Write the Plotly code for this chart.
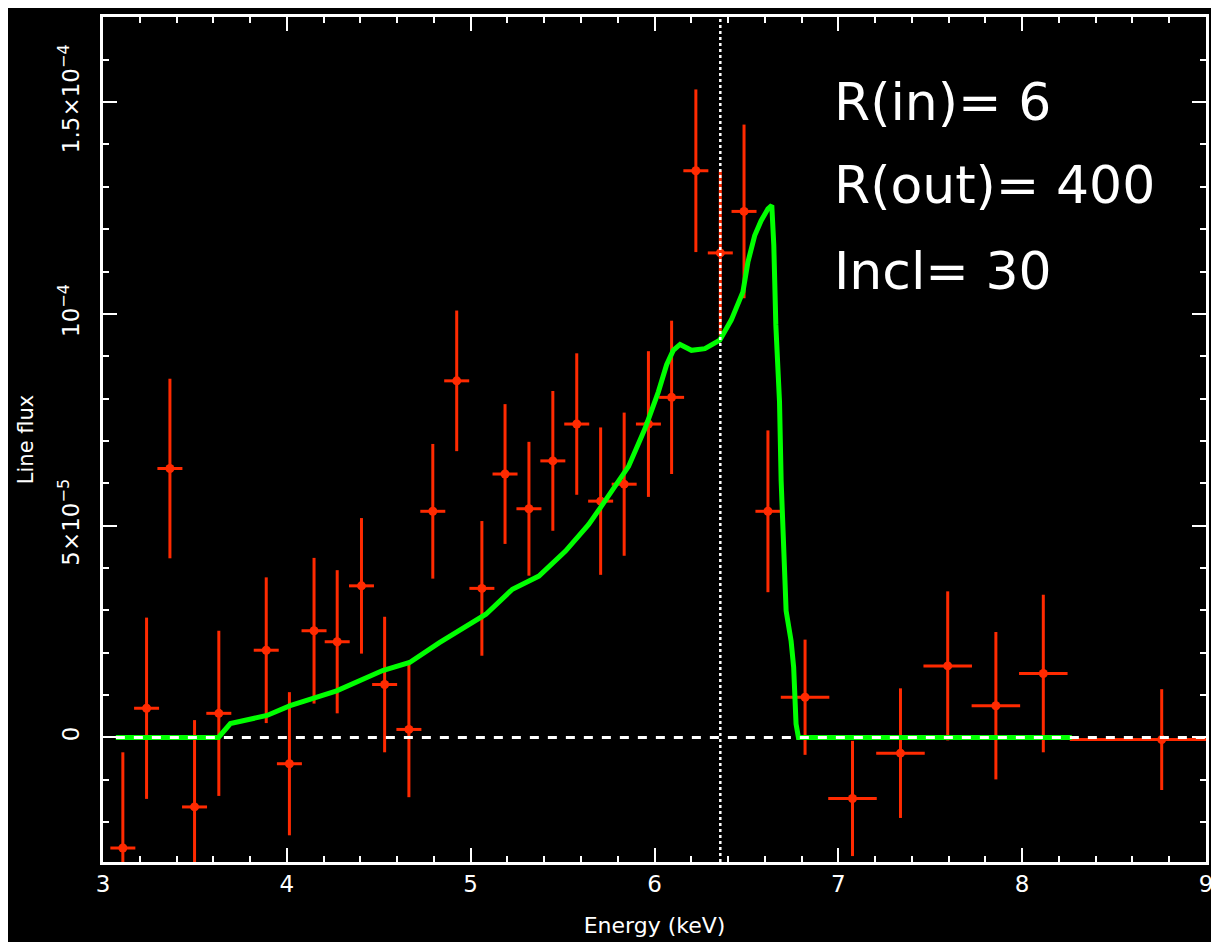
import plotly.graph_objects as go

# ---- data (flux in units of 1e-5) ----
energy = [3.108, 3.237, 3.364, 3.498, 3.630, 3.888, 4.014, 4.148, 4.274, 4.406,
          4.532, 4.664, 4.794, 4.924, 5.061, 5.187, 5.317, 5.447, 5.577, 5.707,
          5.835, 5.967, 6.093, 6.225, 6.358, 6.487, 6.617, 6.819, 7.077, 7.338,
          7.595, 7.857, 8.115, 8.759]
flux_1e5 = [-2.61, 0.69, 6.35, -1.64, 0.57, 2.06, -0.62, 2.52, 2.26, 3.58,
            1.25, 0.19, 5.34, 8.42, 3.52, 6.22, 5.40, 6.53, 7.40, 5.58,
            5.98, 7.40, 8.03, 13.38, 11.44, 12.42, 5.34, 0.95, -1.44, -0.37,
            1.69, 0.75, 1.51, -0.05]
flux_err_1e5 = [2.26, 2.14, 2.12, 2.05, 1.95, 1.72, 1.69, 1.72, 1.69, 1.60,
                1.60, 1.60, 1.59, 1.66, 1.59, 1.65, 1.58, 1.65, 1.67, 1.74,
                1.69, 1.72, 1.81, 1.92, 1.95, 2.05, 1.91, 1.36, 1.36, 1.53,
                1.76, 1.74, 1.86, 1.19]
energy_halfwidth = [0.068] * 27 + [0.132] * 6 + [0.50]

model_energy = [3.07, 3.628, 3.693, 3.892, 4.018, 4.271, 4.521, 4.668, 4.830, 5.083,
                5.227, 5.371, 5.516, 5.642, 5.705, 5.787, 5.859, 5.949, 6.021, 6.066,
                6.102, 6.139, 6.201, 6.274, 6.355, 6.418, 6.481, 6.508, 6.545, 6.580,
                6.617, 6.638, 6.649, 6.660, 6.680, 6.689, 6.707, 6.716, 6.743, 6.757,
                6.770, 6.783, 8.27]
model_flux_1e5 = [0, 0, 0.33, 0.52, 0.75, 1.10, 1.58, 1.77, 2.24, 2.91,
                  3.50, 3.81, 4.40, 5.03, 5.42, 5.93, 6.40, 7.30, 8.16, 8.80,
                  9.14, 9.28, 9.14, 9.18, 9.38, 9.86, 10.52, 11.22, 11.85, 12.20,
                  12.48, 12.56, 11.62, 9.74, 7.93, 6.05, 4.16, 2.99, 2.28, 1.66,
                  0.32, 0, 0]

line_energy = 6.358
ytick_vals = [0, 5e-5, 1e-4, 1.5e-4]
ytick_text = ["0", "5×10<sup>−5</sup>", "10<sup>−4</sup>", "1.5×10<sup>−4</sup>"]
xtick_vals = [3, 4, 5, 6, 7, 8, 9]
xtick_text = ["3", "4", "5", "6", "7", "8", "9"]
labels = ["R(in)= 6", "R(out)= 400", "Incl= 30"]
label_y = [1.50e-4, 1.304e-4, 1.101e-4]

S = 1e-5
RED = "#ff2a00"
GREEN = "#00ff00"
FONT = "DejaVu Sans"

fig = go.Figure()
fig.add_trace(go.Scatter(
    x=energy, y=[v * S for v in flux_1e5], mode="markers",
    marker=dict(color=RED, size=9),
    error_x=dict(type="data", array=energy_halfwidth, color=RED, thickness=3, width=0),
    error_y=dict(type="data", array=[v * S for v in flux_err_1e5], color=RED, thickness=3, width=0),
    showlegend=False, hoverinfo="skip"))
fig.add_trace(go.Scatter(
    x=model_energy, y=[v * S for v in model_flux_1e5], mode="lines",
    line=dict(color=GREEN, width=5), showlegend=False, hoverinfo="skip"))

fig.add_shape(type="line", xref="x", yref="y", x0=3.07, x1=9, y0=0, y1=0,
              line=dict(color="white", width=3, dash="dash"), layer="above")
fig.add_shape(type="line", xref="x", yref="paper", x0=line_energy, x1=line_energy, y0=0, y1=1,
              line=dict(color="white", width=2.5, dash="dot"), layer="above")

for t, yv in zip(labels, label_y):
    fig.add_annotation(x=6.965, y=yv, xref="x", yref="y", text=t, showarrow=False,
                       xanchor="left", yanchor="middle",
                       font=dict(family=FONT, size=52, color="white"))

axis_common = dict(showline=True, linecolor="white", linewidth=2.5, mirror="ticks",
                   ticks="inside", tickcolor="white", tickwidth=2, ticklen=14,
                   showgrid=False, zeroline=False,
                   tickfont=dict(family=FONT, size=23, color="white"))
fig.update_xaxes(range=[3, 9], tickvals=xtick_vals, ticktext=xtick_text,
                 minor=dict(dtick=0.2, tick0=3, ticks="inside", ticklen=6, tickwidth=2,
                            tickcolor="white", showgrid=False),
                 title=dict(text="Energy (keV)", font=dict(family=FONT, size=22, color="white"),
                            standoff=22),
                 **axis_common)
fig.update_yaxes(range=[-2.94e-5, 1.701e-4], tickvals=ytick_vals, ticktext=ytick_text,
                 tickangle=-90, ticklabelstandoff=12,
                 minor=dict(dtick=1e-5, tick0=0, ticks="inside", ticklen=6, tickwidth=2,
                            tickcolor="white", showgrid=False),
                 title=dict(text="Line flux", font=dict(family=FONT, size=21, color="white"),
                            standoff=16),
                 **axis_common)

# the page body has an 8 px margin, so the figure is 8 px smaller and shifted
fig.update_layout(width=1211, height=934,
                  margin=dict(l=95, r=10, t=6, b=80),
                  paper_bgcolor="black", plot_bgcolor="black")

fig.write_html("out.html")
